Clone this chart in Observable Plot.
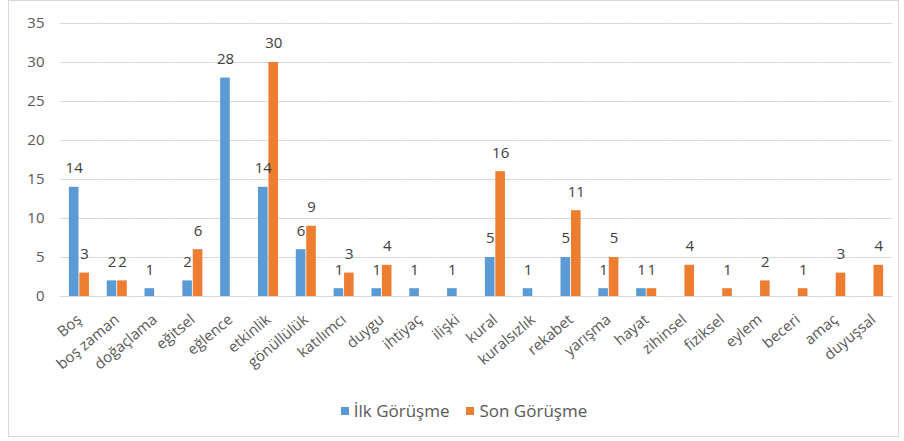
<!DOCTYPE html>
<html>
<head>
<meta charset="utf-8">
<script src="https://cdn.jsdelivr.net/npm/d3@7"></script>
<script src="https://cdn.jsdelivr.net/npm/@observablehq/plot@0.6"></script>
<style>
  html, body { margin: 0; padding: 0; background: #fff; }
  body { width: 904px; height: 441px; position: relative; overflow: hidden; font-family: "Open Sans", sans-serif; }
  #frame { position: absolute; left: 8px; top: 0px; width: 891px; height: 437px; border: 1px solid #d9d9d9; box-sizing: border-box; pointer-events: none; }
  #chart { position: absolute; left: 0; top: 0; }
  #legend { position: absolute; left: 0; top: 399px; width: 904px; display: flex; justify-content: center; gap: 17px; font-size: 17px; color: #595959; padding-left: 24px; box-sizing: border-box; }
  .sw { display: inline-flex; align-items: center; gap: 5px; }
  .sw span.box { display: inline-block; width: 8px; height: 8px; }
</style>
</head>
<body>
<div id="chart"></div>
<div id="legend"></div>
<div id="frame"></div>
<script>
const categories = ["Boş","boş zaman","doğaçlama","eğitsel","eğlence","etkinlik","gönüllülük","katılımcı","duygu","ihtiyaç","ilişki","kural","kuralsızlık","rekabet","yarışma","hayat","zihinsel","fiziksel","eylem","beceri","amaç","duyuşsal"];
const series = ["İlk Görüşme","Son Görüşme"];
const ilk = [14,2,1,2,28,14,6,1,1,1,1,5,1,5,1,1,null,null,null,null,null,null];
const son = [3,2,null,6,null,30,9,3,4,null,null,16,null,11,5,1,4,1,2,1,3,4];
const colors = ["#5B9BD5","#ED7D31"];
const yTicks = [0,5,10,15,20,25,30,35];

const data = [];
categories.forEach((c, i) => {
  if (ilk[i] != null) data.push({cat: c, series: series[0], value: ilk[i]});
  if (son[i] != null) data.push({cat: c, series: series[1], value: son[i]});
});

const chart = Plot.plot({
  width: 904,
  height: 385,
  marginLeft: 60,
  marginRight: 12,
  marginTop: 23,
  marginBottom: 89,
  style: {fontFamily: "Open Sans, sans-serif", fontSize: "15px", color: "#595959", background: "transparent"},
  fx: {domain: categories, paddingInner: 0, paddingOuter: 0, round: false, label: null, tickRotate: -40, tickSize: 0, tickPadding: 21, axis: "bottom", fontSize: 15},
  x: {domain: series, axis: null, paddingInner: 0.08, paddingOuter: 0.85, round: false},
  y: {domain: [0, 35], ticks: yTicks, label: null, tickSize: 0, tickPadding: 16, fontSize: 16},
  color: {domain: series, range: colors},
  marks: [
    Plot.gridY(yTicks, {stroke: "#d9d9d9", strokeOpacity: 1}),
    Plot.barY(data, {fx: "cat", x: "series", y: "value", fill: "series"}),
    Plot.text(data, {fx: "cat", x: "series", y: "value", text: "value", dy: -19, fontSize: 15, fill: "#404040"})
  ]
});
document.getElementById("chart").appendChild(chart);

const legend = document.getElementById("legend");
series.forEach((s, i) => {
  const el = document.createElement("span");
  el.className = "sw";
  el.innerHTML = `<span class="box" style="background:${colors[i]}"></span><span>${s}</span>`;
  legend.appendChild(el);
});
</script>
</body>
</html>
